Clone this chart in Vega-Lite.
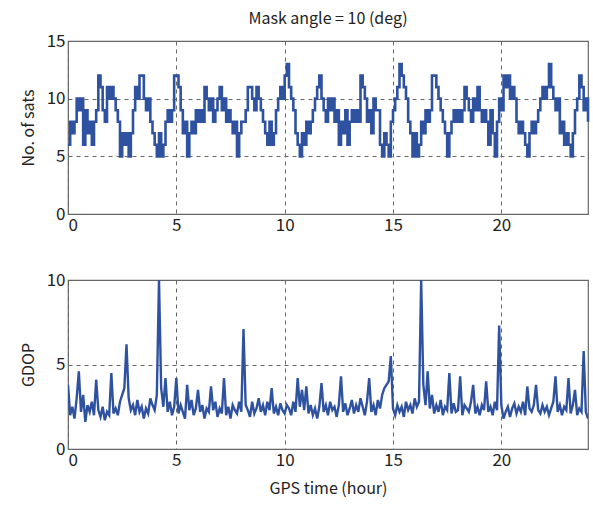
{
  "$schema": "https://vega.github.io/schema/vega-lite/v6.json",
  "background": "white",
  "padding": {"left": 19, "top": 10, "right": 0, "bottom": 3},
  "spacing": 36,
  "config": {
    "font": "Noto Sans CJK JP",
    "view": {"stroke": "#666", "strokeWidth": 1.2},
    "axis": {
      "domain": false, "ticks": false, "grid": true, "gridDash": [4, 4], "gridColor": "#666", "gridWidth": 1,
      "labelFont": "Noto Sans CJK JP", "labelFontSize": 17, "labelColor": "#222", "labelPadding": 3,
      "titleFont": "Noto Sans CJK JP", "titleFontSize": 16, "titleFontWeight": "normal", "titleColor": "#222"
    },
    "title": {"font": "Noto Sans CJK JP", "fontSize": 16, "fontWeight": "normal", "color": "#222", "offset": 5}
  },
  "datasets": {
    "sats": [
      {"t":0.0,"v":6},{"t":0.1,"v":8},{"t":0.2,"v":7},{"t":0.3,"v":8},{"t":0.4,"v":10},{"t":0.5,"v":9},{"t":0.6,"v":10},{"t":0.7,"v":6},{"t":0.8,"v":9},{"t":0.9,"v":7},
      {"t":1.0,"v":8},{"t":1.1,"v":6},{"t":1.2,"v":8},{"t":1.3,"v":9},{"t":1.4,"v":12},{"t":1.5,"v":11},{"t":1.6,"v":9},{"t":1.7,"v":8},{"t":1.8,"v":11},{"t":1.9,"v":10},
      {"t":2.0,"v":11},{"t":2.1,"v":10},{"t":2.2,"v":9},{"t":2.3,"v":8},{"t":2.4,"v":5},{"t":2.5,"v":7},{"t":2.6,"v":6},{"t":2.7,"v":7},{"t":2.8,"v":5},{"t":2.9,"v":7},
      {"t":3.0,"v":9},{"t":3.1,"v":11},{"t":3.2,"v":10},{"t":3.3,"v":12},{"t":3.4,"v":12},{"t":3.5,"v":10},{"t":3.6,"v":9},{"t":3.7,"v":10},{"t":3.8,"v":8},{"t":3.9,"v":7},
      {"t":4.0,"v":6},{"t":4.1,"v":5},{"t":4.2,"v":7},{"t":4.3,"v":5},{"t":4.4,"v":6},{"t":4.5,"v":8},{"t":4.6,"v":9},{"t":4.7,"v":8},{"t":4.8,"v":9},{"t":4.9,"v":12},
      {"t":5.0,"v":12},{"t":5.1,"v":11},{"t":5.2,"v":9},{"t":5.3,"v":7},{"t":5.4,"v":8},{"t":5.5,"v":5},{"t":5.6,"v":7},{"t":5.7,"v":8},{"t":5.8,"v":7},{"t":5.9,"v":9},
      {"t":6.0,"v":8},{"t":6.1,"v":9},{"t":6.2,"v":8},{"t":6.3,"v":11},{"t":6.4,"v":10},{"t":6.5,"v":9},{"t":6.6,"v":10},{"t":6.7,"v":8},{"t":6.8,"v":9},{"t":6.9,"v":10},
      {"t":7.0,"v":11},{"t":7.1,"v":9},{"t":7.2,"v":10},{"t":7.3,"v":8},{"t":7.4,"v":9},{"t":7.5,"v":8},{"t":7.6,"v":7},{"t":7.7,"v":8},{"t":7.8,"v":5},{"t":7.9,"v":7},
      {"t":8.0,"v":8},{"t":8.1,"v":8},{"t":8.2,"v":9},{"t":8.3,"v":11},{"t":8.4,"v":11},{"t":8.5,"v":10},{"t":8.6,"v":9},{"t":8.7,"v":11},{"t":8.8,"v":10},{"t":8.9,"v":9},
      {"t":9.0,"v":8},{"t":9.1,"v":7},{"t":9.2,"v":6},{"t":9.3,"v":8},{"t":9.4,"v":6},{"t":9.5,"v":7},{"t":9.6,"v":9},{"t":9.7,"v":10},{"t":9.8,"v":11},{"t":9.9,"v":10},
      {"t":10.0,"v":12},{"t":10.1,"v":13},{"t":10.2,"v":11},{"t":10.3,"v":10},{"t":10.4,"v":9},{"t":10.5,"v":7},{"t":10.6,"v":6},{"t":10.7,"v":5},{"t":10.8,"v":7},{"t":10.9,"v":6},
      {"t":11.0,"v":8},{"t":11.1,"v":7},{"t":11.2,"v":8},{"t":11.3,"v":9},{"t":11.4,"v":10},{"t":11.5,"v":11},{"t":11.6,"v":12},{"t":11.7,"v":10},{"t":11.8,"v":9},{"t":11.9,"v":8},
      {"t":12.0,"v":10},{"t":12.1,"v":9},{"t":12.2,"v":10},{"t":12.3,"v":8},{"t":12.4,"v":9},{"t":12.5,"v":6},{"t":12.6,"v":8},{"t":12.7,"v":7},{"t":12.8,"v":9},{"t":12.9,"v":6},
      {"t":13.0,"v":8},{"t":13.1,"v":9},{"t":13.2,"v":8},{"t":13.3,"v":9},{"t":13.4,"v":8},{"t":13.5,"v":12},{"t":13.6,"v":11},{"t":13.7,"v":10},{"t":13.8,"v":8},{"t":13.9,"v":9},
      {"t":14.0,"v":7},{"t":14.1,"v":10},{"t":14.2,"v":9},{"t":14.3,"v":9},{"t":14.4,"v":6},{"t":14.5,"v":5},{"t":14.6,"v":7},{"t":14.7,"v":6},{"t":14.8,"v":5},{"t":14.9,"v":8},
      {"t":15.0,"v":9},{"t":15.1,"v":10},{"t":15.2,"v":11},{"t":15.3,"v":13},{"t":15.4,"v":12},{"t":15.5,"v":11},{"t":15.6,"v":10},{"t":15.7,"v":8},{"t":15.8,"v":7},{"t":15.9,"v":5},
      {"t":16.0,"v":7},{"t":16.1,"v":5},{"t":16.2,"v":6},{"t":16.3,"v":8},{"t":16.4,"v":7},{"t":16.5,"v":9},{"t":16.6,"v":8},{"t":16.7,"v":9},{"t":16.8,"v":12},{"t":16.9,"v":12},
      {"t":17.0,"v":11},{"t":17.1,"v":10},{"t":17.2,"v":9},{"t":17.3,"v":8},{"t":17.4,"v":7},{"t":17.5,"v":5},{"t":17.6,"v":7},{"t":17.7,"v":8},{"t":17.8,"v":9},{"t":17.9,"v":8},
      {"t":18.0,"v":9},{"t":18.1,"v":8},{"t":18.2,"v":9},{"t":18.3,"v":11},{"t":18.4,"v":10},{"t":18.5,"v":9},{"t":18.6,"v":8},{"t":18.7,"v":10},{"t":18.8,"v":9},{"t":18.9,"v":11},
      {"t":19.0,"v":9},{"t":19.1,"v":8},{"t":19.2,"v":9},{"t":19.3,"v":8},{"t":19.4,"v":6},{"t":19.5,"v":9},{"t":19.6,"v":7},{"t":19.7,"v":5},{"t":19.8,"v":8},{"t":19.9,"v":10},
      {"t":20.0,"v":9},{"t":20.1,"v":12},{"t":20.2,"v":11},{"t":20.3,"v":12},{"t":20.4,"v":10},{"t":20.5,"v":11},{"t":20.6,"v":10},{"t":20.7,"v":8},{"t":20.8,"v":7},{"t":20.9,"v":8},
      {"t":21.0,"v":7},{"t":21.1,"v":6},{"t":21.2,"v":5},{"t":21.3,"v":7},{"t":21.4,"v":8},{"t":21.5,"v":7},{"t":21.6,"v":8},{"t":21.7,"v":9},{"t":21.8,"v":10},{"t":21.9,"v":11},
      {"t":22.0,"v":10},{"t":22.1,"v":11},{"t":22.2,"v":13},{"t":22.3,"v":11},{"t":22.4,"v":10},{"t":22.5,"v":9},{"t":22.6,"v":10},{"t":22.7,"v":7},{"t":22.8,"v":8},{"t":22.9,"v":6},
      {"t":23.0,"v":7},{"t":23.1,"v":6},{"t":23.2,"v":5},{"t":23.3,"v":7},{"t":23.4,"v":9},{"t":23.5,"v":10},{"t":23.6,"v":12},{"t":23.7,"v":11},{"t":23.8,"v":9},{"t":23.9,"v":10},
      {"t":24.0,"v":8}
    ],
    "gdop": [
      {"t":0.0,"v":3.8},{"t":0.1,"v":2.0},{"t":0.2,"v":2.5},{"t":0.3,"v":1.8},{"t":0.4,"v":3.0},{"t":0.5,"v":4.6},{"t":0.6,"v":2.2},{"t":0.7,"v":3.2},{"t":0.8,"v":1.6},{"t":0.9,"v":2.6},
      {"t":1.0,"v":2.2},{"t":1.1,"v":2.8},{"t":1.2,"v":2.0},{"t":1.3,"v":4.1},{"t":1.4,"v":2.3},{"t":1.5,"v":1.9},{"t":1.6,"v":2.5},{"t":1.7,"v":1.7},{"t":1.8,"v":2.2},{"t":1.9,"v":2.0},
      {"t":2.0,"v":4.5},{"t":2.1,"v":2.1},{"t":2.2,"v":2.4},{"t":2.3,"v":2.0},{"t":2.4,"v":2.8},{"t":2.5,"v":3.2},{"t":2.6,"v":3.6},{"t":2.7,"v":6.2},{"t":2.8,"v":3.0},{"t":2.9,"v":2.3},
      {"t":3.0,"v":2.6},{"t":3.1,"v":2.0},{"t":3.2,"v":2.9},{"t":3.3,"v":2.2},{"t":3.4,"v":2.5},{"t":3.5,"v":1.8},{"t":3.6,"v":2.4},{"t":3.7,"v":2.1},{"t":3.8,"v":3.0},{"t":3.9,"v":2.6},
      {"t":4.0,"v":2.3},{"t":4.1,"v":3.2},{"t":4.2,"v":10},{"t":4.3,"v":3.6},{"t":4.4,"v":2.5},{"t":4.5,"v":4.2},{"t":4.6,"v":2.2},{"t":4.7,"v":2.8},{"t":4.8,"v":2.0},{"t":4.9,"v":2.5},
      {"t":5.0,"v":4.2},{"t":5.1,"v":2.1},{"t":5.2,"v":2.6},{"t":5.3,"v":2.2},{"t":5.4,"v":1.8},{"t":5.5,"v":3.8},{"t":5.6,"v":2.3},{"t":5.7,"v":2.9},{"t":5.8,"v":2.0},{"t":5.9,"v":2.4},
      {"t":6.0,"v":3.5},{"t":6.1,"v":2.2},{"t":6.2,"v":2.6},{"t":6.3,"v":1.8},{"t":6.4,"v":2.4},{"t":6.5,"v":2.2},{"t":6.6,"v":3.7},{"t":6.7,"v":2.3},{"t":6.8,"v":2.8},{"t":6.9,"v":1.9},
      {"t":7.0,"v":2.4},{"t":7.1,"v":2.1},{"t":7.2,"v":4.2},{"t":7.3,"v":2.0},{"t":7.4,"v":2.5},{"t":7.5,"v":1.8},{"t":7.6,"v":2.6},{"t":7.7,"v":2.3},{"t":7.8,"v":2.1},{"t":7.9,"v":2.8},
      {"t":8.0,"v":2.2},{"t":8.1,"v":7.1},{"t":8.2,"v":2.6},{"t":8.3,"v":2.3},{"t":8.4,"v":1.9},{"t":8.5,"v":2.8},{"t":8.6,"v":2.1},{"t":8.7,"v":2.4},{"t":8.8,"v":3.0},{"t":8.9,"v":2.2},
      {"t":9.0,"v":2.6},{"t":9.1,"v":2.0},{"t":9.2,"v":2.8},{"t":9.3,"v":2.3},{"t":9.4,"v":3.6},{"t":9.5,"v":2.1},{"t":9.6,"v":2.5},{"t":9.7,"v":2.0},{"t":9.8,"v":2.7},{"t":9.9,"v":2.3},
      {"t":10.0,"v":2.1},{"t":10.1,"v":2.6},{"t":10.2,"v":2.4},{"t":10.3,"v":2.0},{"t":10.4,"v":2.8},{"t":10.5,"v":2.2},{"t":10.6,"v":4.2},{"t":10.7,"v":2.5},{"t":10.8,"v":3.5},{"t":10.9,"v":2.3},
      {"t":11.0,"v":3.7},{"t":11.1,"v":2.1},{"t":11.2,"v":2.6},{"t":11.3,"v":2.0},{"t":11.4,"v":2.4},{"t":11.5,"v":1.8},{"t":11.6,"v":2.5},{"t":11.7,"v":3.9},{"t":11.8,"v":2.2},{"t":11.9,"v":2.6},
      {"t":12.0,"v":2.0},{"t":12.1,"v":2.8},{"t":12.2,"v":2.3},{"t":12.3,"v":2.5},{"t":12.4,"v":1.9},{"t":12.5,"v":2.6},{"t":12.6,"v":4.3},{"t":12.7,"v":2.2},{"t":12.8,"v":2.7},{"t":12.9,"v":2.0},
      {"t":13.0,"v":2.4},{"t":13.1,"v":2.9},{"t":13.2,"v":2.1},{"t":13.3,"v":2.6},{"t":13.4,"v":2.2},{"t":13.5,"v":3.0},{"t":13.6,"v":2.5},{"t":13.7,"v":2.0},{"t":13.8,"v":2.8},{"t":13.9,"v":4.2},
      {"t":14.0,"v":2.2},{"t":14.1,"v":2.6},{"t":14.2,"v":2.0},{"t":14.3,"v":2.9},{"t":14.4,"v":2.4},{"t":14.5,"v":3.2},{"t":14.6,"v":3.6},{"t":14.7,"v":3.8},{"t":14.8,"v":4.0},{"t":14.9,"v":5.5},
      {"t":15.0,"v":2.4},{"t":15.1,"v":2.0},{"t":15.2,"v":2.6},{"t":15.3,"v":2.2},{"t":15.4,"v":2.5},{"t":15.5,"v":1.9},{"t":15.6,"v":2.8},{"t":15.7,"v":2.3},{"t":15.8,"v":2.6},{"t":15.9,"v":2.1},
      {"t":16.0,"v":3.0},{"t":16.1,"v":2.5},{"t":16.2,"v":2.8},{"t":16.3,"v":10},{"t":16.4,"v":3.8},{"t":16.5,"v":2.6},{"t":16.6,"v":4.6},{"t":16.7,"v":2.4},{"t":16.8,"v":3.2},{"t":16.9,"v":2.1},
      {"t":17.0,"v":2.6},{"t":17.1,"v":2.2},{"t":17.2,"v":2.9},{"t":17.3,"v":2.0},{"t":17.4,"v":2.5},{"t":17.5,"v":2.3},{"t":17.6,"v":4.5},{"t":17.7,"v":2.1},{"t":17.8,"v":2.7},{"t":17.9,"v":2.2},
      {"t":18.0,"v":2.3},{"t":18.1,"v":4.3},{"t":18.2,"v":2.0},{"t":18.3,"v":2.6},{"t":18.4,"v":2.4},{"t":18.5,"v":2.2},{"t":18.6,"v":2.8},{"t":18.7,"v":3.8},{"t":18.8,"v":2.1},{"t":18.9,"v":2.5},
      {"t":19.0,"v":2.0},{"t":19.1,"v":2.6},{"t":19.2,"v":2.3},{"t":19.3,"v":4.0},{"t":19.4,"v":2.2},{"t":19.5,"v":2.5},{"t":19.6,"v":2.0},{"t":19.7,"v":2.8},{"t":19.8,"v":2.3},{"t":19.9,"v":7.3},
      {"t":20.0,"v":2.6},{"t":20.1,"v":1.8},{"t":20.2,"v":2.2},{"t":20.3,"v":2.5},{"t":20.4,"v":1.9},{"t":20.5,"v":2.4},{"t":20.6,"v":2.7},{"t":20.7,"v":2.1},{"t":20.8,"v":2.5},{"t":20.9,"v":2.2},
      {"t":21.0,"v":2.8},{"t":21.1,"v":2.0},{"t":21.2,"v":3.7},{"t":21.3,"v":2.4},{"t":21.4,"v":2.2},{"t":21.5,"v":2.6},{"t":21.6,"v":3.8},{"t":21.7,"v":2.3},{"t":21.8,"v":2.1},{"t":21.9,"v":2.6},
      {"t":22.0,"v":2.2},{"t":22.1,"v":2.5},{"t":22.2,"v":2.0},{"t":22.3,"v":2.4},{"t":22.4,"v":2.8},{"t":22.5,"v":4.3},{"t":22.6,"v":2.2},{"t":22.7,"v":2.6},{"t":22.8,"v":2.0},{"t":22.9,"v":2.5},
      {"t":23.0,"v":2.3},{"t":23.1,"v":4.2},{"t":23.2,"v":2.1},{"t":23.3,"v":2.6},{"t":23.4,"v":3.5},{"t":23.5,"v":2.0},{"t":23.6,"v":2.4},{"t":23.7,"v":2.2},{"t":23.8,"v":5.8},{"t":23.9,"v":2.2},
      {"t":24.0,"v":1.8}
    ]
  },
  "vconcat": [
    {
      "title": {"text": "Mask angle = 10 (deg)"},
      "width": 520,
      "height": 173,
      "data": {"name": "sats"},
      "mark": {"type": "line", "interpolate": "step-after", "color": "#2f52a0", "strokeWidth": 2.6},
      "encoding": {
        "x": {"field": "t", "type": "quantitative", "title": null,
              "scale": {"domain": [0, 24], "nice": false},
              "axis": {"values": [0, 5, 10, 15, 20]}},
        "y": {"field": "v", "type": "quantitative", "title": "No. of sats",
              "scale": {"domain": [0, 15], "nice": false},
              "axis": {"values": [0, 5, 10, 15], "titlePadding": 10}}
      }
    },
    {
      "width": 520,
      "height": 169,
      "data": {"name": "gdop"},
      "mark": {"type": "line", "color": "#2f52a0", "strokeWidth": 2.4, "clip": true},
      "encoding": {
        "x": {"field": "t", "type": "quantitative", "title": "GPS time (hour)",
              "scale": {"domain": [0, 24], "nice": false},
              "axis": {"values": [0, 5, 10, 15, 20], "titlePadding": 12}},
        "y": {"field": "v", "type": "quantitative", "title": "GDOP",
              "scale": {"domain": [0, 10], "nice": false},
              "axis": {"values": [0, 5, 10], "titlePadding": 10}}
      }
    }
  ]
}
